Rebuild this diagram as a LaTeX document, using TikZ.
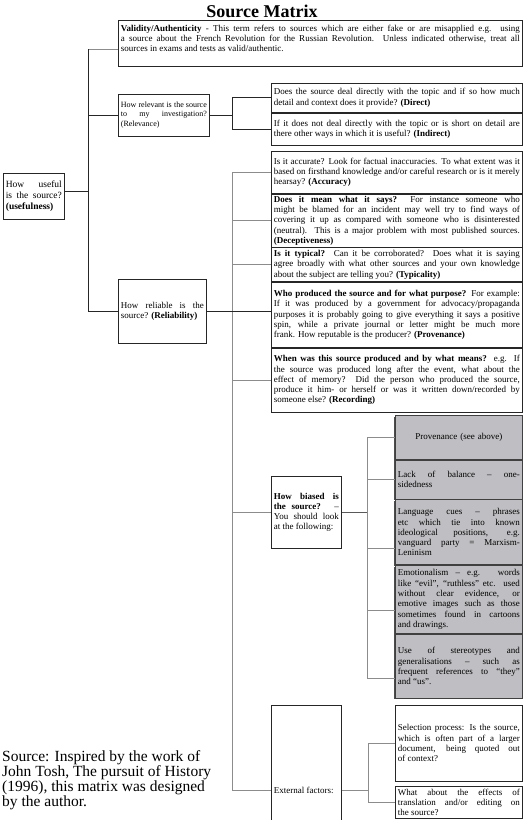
\documentclass[tikz,border=0pt]{standalone}
\usepackage{fontspec}
\setmainfont{Liberation Serif}
\usetikzlibrary{positioning,shadows}
\definecolor{boxgray}{RGB}{191,191,195}
\newcommand{\boxfont}{\fontsize{9}{10.3}\selectfont}

\begin{document}
\begin{tikzpicture}[
			x=1pt, y=-1pt,
			infobox/.style={
				draw=black!85,
				line width=0.7pt,
				fill=white,
				align=justify,
				inner xsep=2.5pt,
				inner ysep=1pt,
				font=\boxfont
			},
			shadebox/.style={
				infobox,
				fill=boxgray,
				draw=black!75,
				drop shadow={shadow xshift=-1.2pt, shadow yshift=-1.2pt, fill=black!70, opacity=1}
			},
			mainlink/.style={draw=black!85, line width=1pt},
			sublink/.style={draw=black!45, line width=0.8pt}
			]
			
			\useasboundingbox (0,0) rectangle (525,820);
			\clip (0,0) rectangle (525,820);
			
			%%%%%%%%%%%%%%%%%%%%%%%%%%%%%%%%%%%%%%%%%%%%%%%%%%%%%%
			% Title
			%%%%%%%%%%%%%%%%%%%%%%%%%%%%%%%%%%%%%%%%%%%%%%%%%%%%%%
			
			\node[font=\fontsize{18}{20}\selectfont\bfseries] (title) at (262,11) {Source Matrix};
			
			%%%%%%%%%%%%%%%%%%%%%%%%%%%%%%%%%%%%%%%%%%%%%%%%%%%%%%
			% First level
			%%%%%%%%%%%%%%%%%%%%%%%%%%%%%%%%%%%%%%%%%%%%%%%%%%%%%%
			
			\node[infobox, anchor=west, text width=56pt, minimum height=46pt,
			font=\fontsize{9.5}{10.8}\selectfont] (useful) at (3,196)
			{How useful\linebreak is the source?\linebreak \textbf{(usefulness)}};
			
			\node[infobox, anchor=north west, text width=399pt, minimum height=46pt] (validity) at (118,20)
			{\textbf{Validity/Authenticity} - This term refers to sources which are either fake or are misapplied e.g. using\linebreak
				a source about the French Revolution for the Russian Revolution. Unless indicated otherwise, treat all\linebreak
				sources in exams and tests as valid/authentic.\par\mbox{}};
			
			\node[infobox, anchor=west, text width=86pt, minimum height=42pt,
			font=\fontsize{8}{9.6}\selectfont] (relev) at (118,115)
			{How relevant is the source\linebreak to my investigation?\linebreak (Relevance)};
			
			\node[infobox, anchor=west, text width=83pt, minimum height=64pt] (reliab) at (118,311)
			{How reliable is the\linebreak source? \textbf{(Reliability)}};
			
			%%%%%%%%%%%%%%%%%%%%%%%%%%%%%%%%%%%%%%%%%%%%%%%%%%%%%%
			% Relevance
			%%%%%%%%%%%%%%%%%%%%%%%%%%%%%%%%%%%%%%%%%%%%%%%%%%%%%%
			
			\node[infobox, anchor=north west, text width=246pt, minimum height=29pt] (direct) at (271,83)
			{Does the source deal directly with the topic and if so how much\linebreak
				detail and context does it provide? \textbf{(Direct)}};
			
			\node[infobox, below=0pt of direct, text width=246pt, minimum height=32pt] (indirect)
			{If it does not deal directly with the topic or is short on detail are\linebreak
				there other ways in which it is useful? \textbf{(Indirect)}};
			
			%%%%%%%%%%%%%%%%%%%%%%%%%%%%%%%%%%%%%%%%%%%%%%%%%%%%%%
			% Reliability
			%%%%%%%%%%%%%%%%%%%%%%%%%%%%%%%%%%%%%%%%%%%%%%%%%%%%%%
			
			\node[infobox, anchor=north west, text width=246pt, minimum height=42pt] (accur) at (271,151)
			{Is it accurate? Look for factual inaccuracies. To what extent was it\linebreak
				based on firsthand knowledge and/or careful research or is it merely\linebreak
				hearsay? \textbf{(Accuracy)}};
			
			\node[infobox, below=0pt of accur, text width=246pt, minimum height=53pt] (decept)
			{\textbf{Does it mean what it says?}\ \ For instance someone who\linebreak
				might be blamed for an incident may well try to find ways of\linebreak
				covering it up as compared with someone who is disinterested\linebreak
				(neutral).\ \ This is a major problem with most published sources.\linebreak
				\textbf{(Deceptiveness)}};
			
			\node[infobox, below=0pt of decept, text width=246pt, minimum height=34pt] (typic)
			{\textbf{Is it typical?} Can it be corroborated? Does what it is saying\linebreak
				agree broadly with what other sources and your own knowledge\linebreak
				about the subject are telling you? \textbf{(Typicality)}};
			
			\node[infobox, below=0pt of typic, text width=246pt, minimum height=65pt] (proven)
			{\textbf{Who produced the source and for what purpose?} For example:\linebreak
				If it was produced by a government for advocacy/propaganda\linebreak
				purposes it is probably going to give everything it says a positive\linebreak
				spin, while a private journal or letter might be much more\linebreak
				frank. How reputable is the producer? \textbf{(Provenance)}};
			
			\node[infobox, below=0pt of proven, text width=246pt, minimum height=64pt] (record)
			{\textbf{When was this source produced and by what means?} e.g. If\linebreak
				the source was produced long after the event, what about the\linebreak
				effect of memory?\ \ Did the person who produced the source,\linebreak
				produce it him- or herself or was it written down/recorded by\linebreak
				someone else? \textbf{(Recording)}};
			
			%%%%%%%%%%%%%%%%%%%%%%%%%%%%%%%%%%%%%%%%%%%%%%%%%%%%%%
			% Bias
			%%%%%%%%%%%%%%%%%%%%%%%%%%%%%%%%%%%%%%%%%%%%%%%%%%%%%%
			
			\node[infobox, anchor=north west, text width=65pt, minimum height=72pt] (bias) at (271,476)
			{\textbf{How biased is\linebreak the source?} --\linebreak You should look\linebreak at the following:};
			
			\node[shadebox, anchor=north west, text width=122pt, minimum height=44pt, align=center] (provsee) at (395,415)
			{Provenance (see above)};
			
			\node[shadebox, below=0pt of provsee, text width=122pt, minimum height=39pt] (lack)
			{Lack of balance -- one-\linebreak sidedness};
			
			\node[shadebox, below=0pt of lack, text width=122pt, minimum height=65pt] (lang)
			{Language cues -- phrases\linebreak etc which tie into known\linebreak
				ideological positions, e.g.\linebreak vanguard party = Marxism-\linebreak Leninism};
			
			\node[shadebox, below=0pt of lang, text width=122pt, minimum height=68pt] (emot)
			{Emotionalism -- e.g. words\linebreak like “evil”, “ruthless” etc. used\linebreak
				without clear evidence, or\linebreak emotive images such as those\linebreak
				sometimes found in cartoons\linebreak and drawings.};
			
			\node[shadebox, below=0pt of emot, text width=122pt, minimum height=64pt] (stereo)
			{Use of stereotypes and\linebreak generalisations -- such as\linebreak
				frequent references to “they”\linebreak and “us”.};
			
			%%%%%%%%%%%%%%%%%%%%%%%%%%%%%%%%%%%%%%%%%%%%%%%%%%%%%%
			% External factors
			%%%%%%%%%%%%%%%%%%%%%%%%%%%%%%%%%%%%%%%%%%%%%%%%%%%%%%
			
			\node[infobox, anchor=north west, text width=65pt, minimum height=170pt] (ext) at (271,705)
			{External factors:};
			
			\node[infobox, anchor=north west, text width=122pt, minimum height=76pt] (select) at (395,705)
			{Selection process: Is the source,\linebreak which is often part of a larger\linebreak
				document, being quoted out\linebreak of context?};
			
			\node[infobox, anchor=north west, text width=122pt, minimum height=32pt] (transl) at (395,786)
			{What about the effects of\linebreak translation and/or editing on\linebreak the source?};
			
			\node[anchor=north west, align=left, inner sep=0pt,
			font=\fontsize{15.5}{15}\selectfont] (credit) at (2,750)
			{Source: Inspired by the work of\\ John Tosh, The pursuit of History\\
				(1996), this matrix was designed\\ by the author.};
			
			%%%%%%%%%%%%%%%%%%%%%%%%%%%%%%%%%%%%%%%%%%%%%%%%%%%%%%
			% Trunks
			%%%%%%%%%%%%%%%%%%%%%%%%%%%%%%%%%%%%%%%%%%%%%%%%%%%%%%
			
			\coordinate (s1) at (88,49);
			\coordinate (s2) at (232,0);
			\coordinate (s3) at (367,0);
			\coordinate (s4) at (368,0);
			
			\coordinate (langjoin) at ([yshift=-16pt]lang.west);
			\coordinate (emotjoin) at ([yshift=-11pt]emot.west);
			\coordinate (stereojoin) at ([yshift=-12pt]stereo.west);
			\coordinate (usefuljoin) at ([yshift=5pt]useful.east);
			
			\draw[sublink] (s1) -- (s1 -| validity.west);
			\draw[mainlink] (s1) -- (s1 |- reliab.west);
			\draw[mainlink] (usefuljoin) -- (usefuljoin -| s1);
			\draw[mainlink] (relev.west) -- (relev.west -| s1);
			\draw[mainlink] (reliab.west) -- (reliab.west -| s1);
			
			%%%%%%%%%%%%%%%%%%%%%%%%%%%%%%%%%%%%%%%%%%%%%%%%%%%%%%
			% Relevance links
			%%%%%%%%%%%%%%%%%%%%%%%%%%%%%%%%%%%%%%%%%%%%%%%%%%%%%%
			
			\draw[mainlink] (relev.east) -- (relev.east -| s2);
			\draw[mainlink] (s2 |- direct.west) -- (s2 |- indirect.west);
			\draw[mainlink] (s2 |- direct.west) -- (direct.west);
			\draw[mainlink] (s2 |- indirect.west) -- (indirect.west);
			
			%%%%%%%%%%%%%%%%%%%%%%%%%%%%%%%%%%%%%%%%%%%%%%%%%%%%%%
			% Reliability links
			%%%%%%%%%%%%%%%%%%%%%%%%%%%%%%%%%%%%%%%%%%%%%%%%%%%%%%
			
			\draw[sublink] (s2 |- accur.west) -- (s2 |- ext.west);
			\draw[mainlink] (reliab.east) -- (reliab.east -| proven.west);
			\draw[sublink] (s2 |- accur.west) -- (accur.west);
			\draw[sublink] (s2 |- decept.west) -- (decept.west);
			\draw[sublink] (s2 |- typic.west) -- (typic.west);
			\draw[sublink] (s2 |- record.west) -- (record.west);
			\draw[sublink] (s2 |- bias.west) -- (bias.west);
			\draw[sublink] (s2 |- ext.west) -- (ext.west);
			
			%%%%%%%%%%%%%%%%%%%%%%%%%%%%%%%%%%%%%%%%%%%%%%%%%%%%%%
			% Bias links
			%%%%%%%%%%%%%%%%%%%%%%%%%%%%%%%%%%%%%%%%%%%%%%%%%%%%%%
			
			\draw[mainlink, draw=black!65] (bias.east) -- (bias.east -| s3);
			\draw[sublink] (s3 |- provsee.west) -- (s3 |- stereojoin);
			\draw[sublink] (s3 |- provsee.west) -- (provsee.west);
			\draw[sublink] (s3 |- lack.west) -- (lack.west);
			\draw[sublink] (s3 |- langjoin) -- (langjoin);
			\draw[sublink] (s3 |- emotjoin) -- (emotjoin);
			\draw[sublink] (s3 |- stereojoin) -- (stereojoin);
			
			%%%%%%%%%%%%%%%%%%%%%%%%%%%%%%%%%%%%%%%%%%%%%%%%%%%%%%
			% External links
			%%%%%%%%%%%%%%%%%%%%%%%%%%%%%%%%%%%%%%%%%%%%%%%%%%%%%%
			
			\draw[sublink] (ext.east) -- (ext.east -| s4);
			\draw[sublink] (s4 |- select.west) -- (s4 |- transl.west);
			\draw[sublink] (s4 |- select.west) -- (select.west);
			\draw[sublink] (s4 |- transl.west) -- (transl.west);
			
			%%%%%%%%%%%%%%%%%%%%%%%%%%%%%%%%%%%%%%%%%%%%%%%%%%%%%%
			
		\end{tikzpicture}
\end{document}
